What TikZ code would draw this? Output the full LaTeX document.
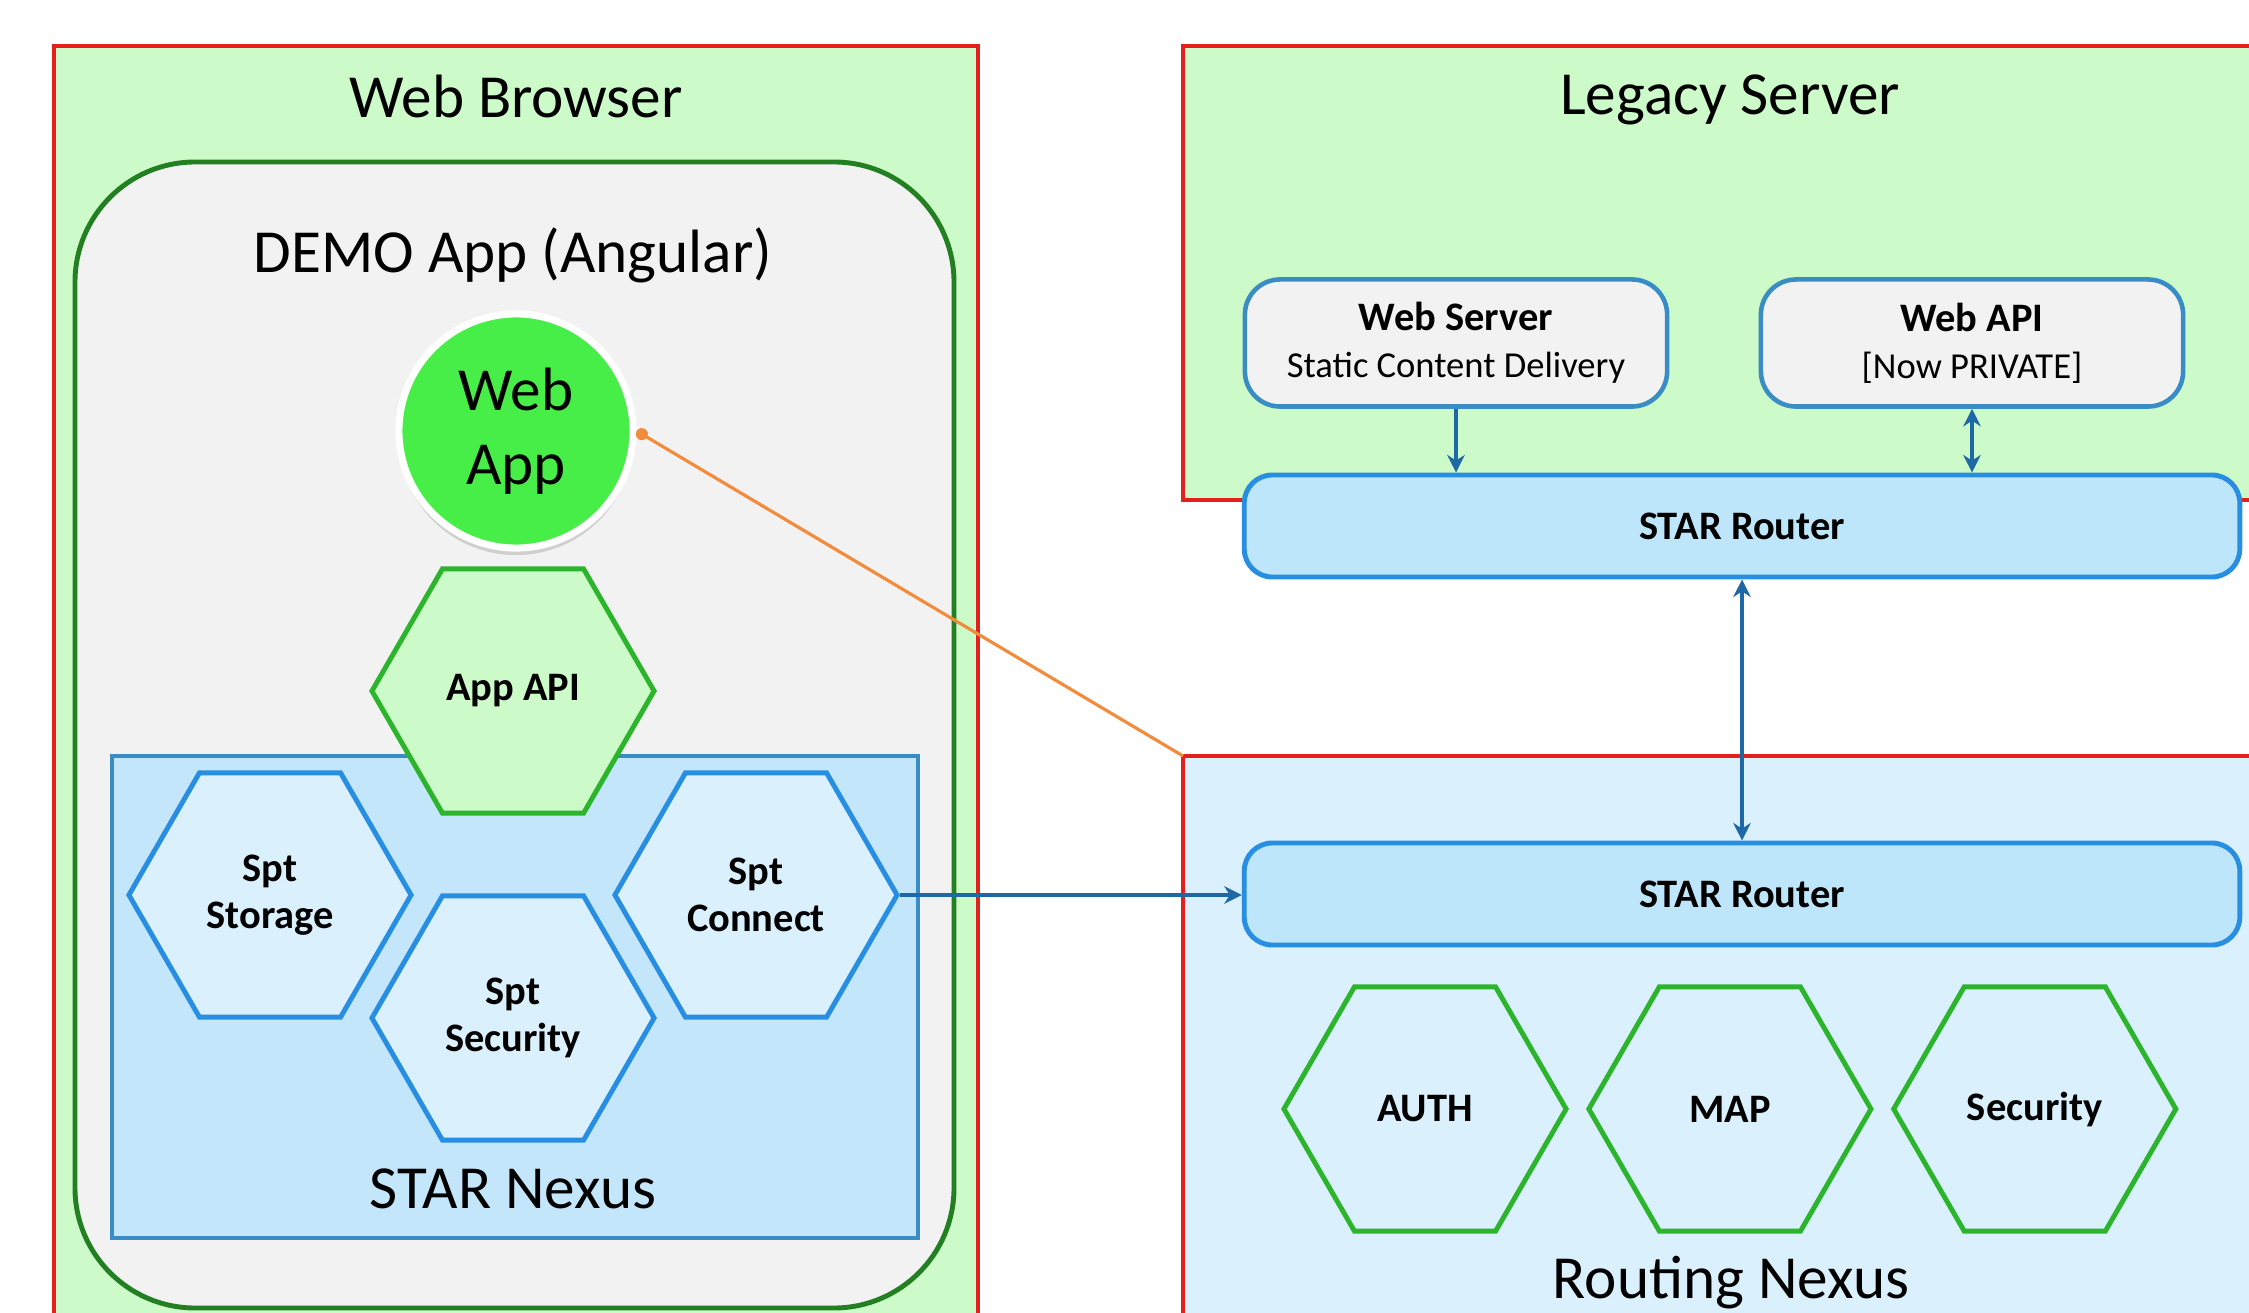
\documentclass[tikz,border=0pt]{standalone}
\usepackage{fontspec}
\setmainfont{Carlito}
\usepackage{tikz}
\usetikzlibrary{positioning,shapes.geometric,shadows,arrows.meta}

\definecolor{boxred}{RGB}{228,32,28}
\definecolor{palegreen}{RGB}{204,250,200}
\definecolor{appgray}{RGB}{242,242,242}
\definecolor{darkgreen}{RGB}{34,128,34}
\definecolor{hexgreen}{RGB}{44,180,44}
\definecolor{webgreen}{RGB}{72,238,72}
\definecolor{nexusblue}{RGB}{196,230,250}
\definecolor{paleblue}{RGB}{218,240,252}
\definecolor{lineblue}{RGB}{40,142,226}
\definecolor{frameblue}{RGB}{58,140,196}
\definecolor{arrowblue}{RGB}{30,105,165}
\definecolor{routerblue}{RGB}{190,230,250}
\definecolor{linkorange}{RGB}{242,140,60}

\begin{document}
\begin{tikzpicture}[x=0.01cm,y=-0.01cm,
		font=\fontsize{11.5}{13.4}\selectfont,
		title/.style={font=\fontsize{17.4}{21}\selectfont},
		hexa/.style={regular polygon,regular polygon sides=6,minimum size=2.82cm,inner sep=0pt,
			line width=1.4pt,align=center,font=\fontsize{11.5}{13.4}\selectfont\bfseries},
		spthex/.style={hexa,draw=lineblue,fill=paleblue},
		greenhex/.style={hexa,draw=hexgreen},
		router/.style={draw=lineblue,line width=1.4pt,fill=routerblue,rounded corners=8pt,
			minimum width=9.95cm,minimum height=1.02cm,font=\fontsize{11.5}{13.4}\selectfont\bfseries},
		server/.style={draw=frameblue,line width=1.3pt,fill=appgray,rounded corners=10pt,
			minimum width=4.22cm,minimum height=1.27cm,align=center},
		link/.style={-{Stealth[length=5pt,width=5pt]},draw=arrowblue,line width=1.1pt},
		twoway/.style={link,{Stealth[length=5pt,width=5pt]}-{Stealth[length=5pt,width=5pt]}}]
		\clip (0,0) rectangle (2249,1313);
		
		% Web Browser side
		\draw[boxred,fill=palegreen,line width=1.4pt] (54,46) rectangle (978,1340);
		\node[title] (browser) at (516,96) {Web Browser};
		\draw[darkgreen,fill=appgray,line width=1.4pt,rounded corners=1.2cm] (75,162) rectangle (954,1308);
		\node[title] (demo) at (513,255) {DEMO App (Angular)};
		
		\node[circle,fill=webgreen,draw=white,line width=2pt,minimum size=2.34cm,align=center,title,
			drop shadow={opacity=0.3,shadow xshift=0pt,shadow yshift=-2pt}] (webapp) at (516,431) {Web\\App};
		
		\draw[frameblue,fill=nexusblue,line width=1.2pt] (112,756) rectangle (918,1238);
		\node[title] (starnexus) at (513,1189) {STAR Nexus};
		\node[hexa,draw=hexgreen,fill=palegreen] (appapi) at (513,691) {App API};
		\node[spthex] (sptstorage) at (270,895) {Spt\\Storage};
		\node[spthex] (sptsecurity) at (513,1018) {Spt\\Security};
		\node[spthex] (sptconnect) at (756,895) {Spt\\Connect};
		
		% Server side
		\draw[boxred,fill=palegreen,line width=1.4pt] (1183,46) rectangle (2300,500);
		\node[title] (legacy) at (1730,100) {Legacy Server};
		\node[server] (webserver) at (1456,343)
			{\textbf{Web Server}\\{\fontsize{10.4}{13}\selectfont Static Content Delivery}};
		\node[server] (webapi) at (1972,343)
			{\textbf{Web API}\\{\fontsize{10.4}{13}\selectfont [Now PRIVATE]}};
		
		\draw[boxred,fill=paleblue,line width=1.4pt] (1183,756) coordinate (rncorner) rectangle (2300,1340);
		\node[router] (router1) at (1742,526) {STAR Router};
		\node[router] (router2) at (1742,894) {STAR Router};
		\node[greenhex] (auth) at (1425,1109) {AUTH};
		\node[greenhex,right=0.17cm of auth] (map) {MAP};
		\node[greenhex,right=0.17cm of map] (security) {Security};
		\node[title] (routingnexus) at (1731,1283) {Routing Nexus};
		
		% Connectors
		\draw[link] (webserver.south) -- (webserver.south |- router1.north);
		\draw[twoway] (webapi.south) -- (webapi.south |- router1.north);
		\draw[twoway] (router1) -- (router2);
		\draw[link] (sptconnect.east) -- (sptconnect.east -| router2.west);
		\draw[linkorange,line width=0.9pt,-{Circle[length=3.5pt]}] (rncorner) -- (webapp.east);
		
\end{tikzpicture}
\end{document}
